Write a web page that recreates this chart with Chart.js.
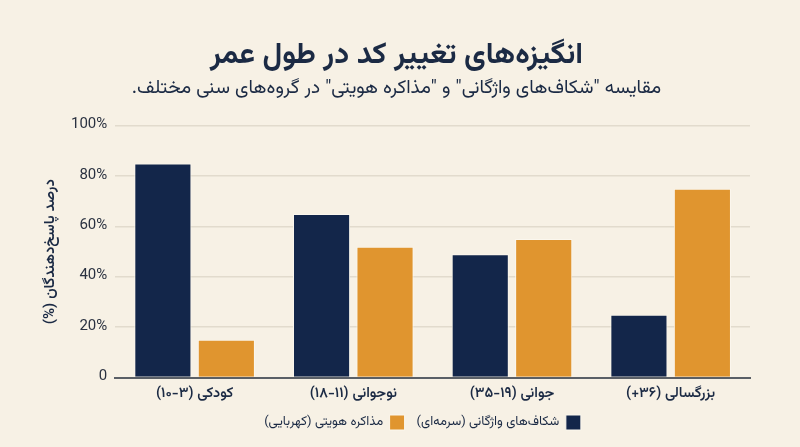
<!DOCTYPE html>
<html lang="fa">
<head>
<meta charset="utf-8">
<script src="https://cdn.jsdelivr.net/npm/chart.js@4.4.1/dist/chart.umd.min.js"></script>
<style>
  html, body { margin: 0; padding: 0; background: #f7f1e5; }
  #wrap { width: 800px; height: 447px; }
</style>
</head>
<body>
<div id="wrap"><canvas id="chart" dir="rtl"></canvas></div>
<script>
// داده‌های نمودار
const gruhha = ['کودکی (۳\u200F-۱۰)', 'نوجوانی (۱۱\u200F-۱۸)', 'جوانی (۱۹\u200F-۳۵)', 'بزرگسالی (۳۶+)'];
const shekafVazhegani = [85, 65, 49, 25];
const mozakereHoviyati = [15, 52, 55, 75];
const barchasbSeri = ['شکاف‌های واژگانی (سرمه‌ای)', 'مذاکره هویتی (کهربایی)'];

const FONT = 'Vazirmatn, "Noto Sans Arabic", "DejaVu Sans", sans-serif';
const NAVY = '#13264a';
const AMBER = '#e0952f';
const TEXT = '#1b2a44';

// پس‌زمینه کرم
const bgPlugin = {
  id: 'bg',
  beforeDraw(chart) {
    const c = chart.ctx;
    c.save();
    c.fillStyle = '#f7f1e5';
    c.fillRect(0, 0, chart.width, chart.height);
    c.restore();
  }
};

// راهنما کمی به راست، مثل نمونه
const legendShift = {
  id: 'legendShift',
  afterLayout(chart) {
    if (chart.legend) {
      chart.legend.left += 26;
      chart.legend.right += 26;
    }
  }
};

new Chart(document.getElementById('chart'), {
  type: 'bar',
  data: {
    labels: gruhha,
    datasets: [
      {
        label: barchasbSeri[0],
        data: shekafVazhegani,
        backgroundColor: NAVY,
        borderColor: '#fbf7ee',
        borderWidth: 1
      },
      {
        label: barchasbSeri[1],
        data: mozakereHoviyati,
        backgroundColor: AMBER,
        borderColor: '#fbf7ee',
        borderWidth: 1
      }
    ]
  },
  options: {
    responsive: true,
    maintainAspectRatio: false,
    animation: false,
    layout: { padding: { left: 43, right: 50, top: 36, bottom: 7 } },
    scales: {
      x: {
        grid: { display: false },
        border: { display: true, color: '#5a5f66', width: 2 },
        ticks: { color: TEXT, font: { family: FONT, size: 14.5, weight: '600' }, padding: 0 }
      },
      y: {
        min: 0,
        max: 100,
        ticks: {
          stepSize: 20,
          color: '#2a3140',
          padding: 8,
          font: { family: FONT, size: 15 },
          callback: v => v === 0 ? '0' : v + '%'
        },
        grid: { color: '#e2dbcd', lineWidth: 1.5, drawTicks: false },
        border: { display: false },
        title: {
          display: true,
          text: 'درصد پاسخ‌دهندگان (%)',
          color: TEXT,
          font: { family: FONT, size: 15, weight: '600' },
          padding: { top: 0, bottom: 2 }
        }
      }
    },
    plugins: {
      title: {
        display: true,
        text: 'انگیزه‌های تغییر کد در طول عمر',
        color: TEXT,
        font: { family: FONT, size: 30, weight: 'bold' },
        padding: { top: 4, bottom: 3 }
      },
      subtitle: {
        display: true,
        text: 'مقایسه "شکاف‌های واژگانی" و "مذاکره هویتی" در گروه‌های سنی مختلف.',
        color: TEXT,
        font: { family: FONT, size: 19 },
        padding: { bottom: 24 }
      },
      legend: {
        position: 'bottom',
        rtl: true,
        textDirection: 'rtl',
        labels: {
          color: TEXT,
          boxWidth: 15,
          boxHeight: 15,
          padding: 12,
          font: { family: FONT, size: 13 }
        }
      },
      tooltip: { rtl: true }
    }
  },
  plugins: [bgPlugin, legendShift]
});
</script>
</body>
</html>
